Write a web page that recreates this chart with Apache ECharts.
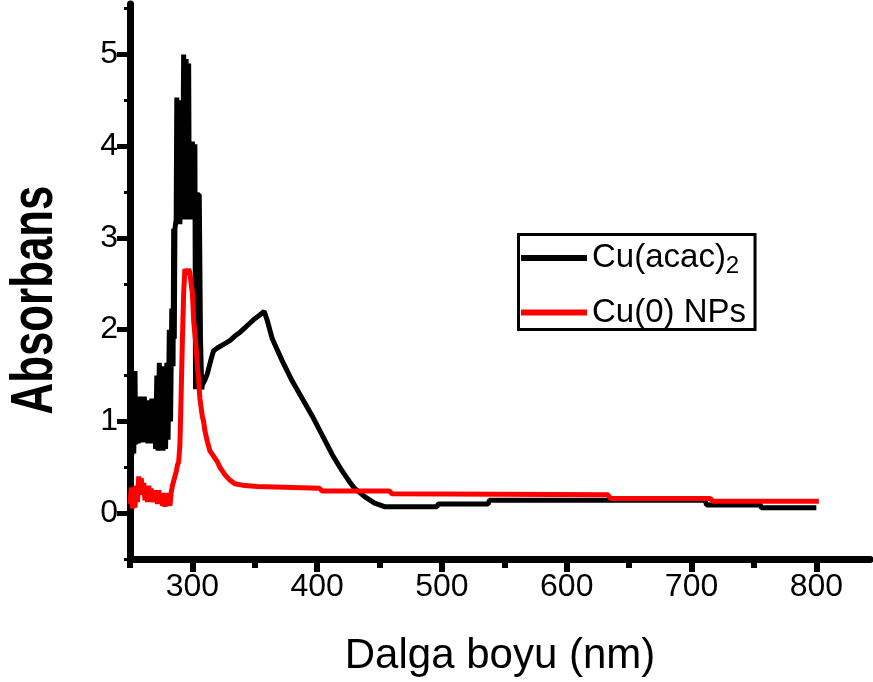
<!DOCTYPE html>
<html>
<head>
<meta charset="utf-8">
<script src="https://cdn.jsdelivr.net/npm/echarts@6/dist/echarts.min.js"></script>
<style>
    html, body { margin: 0; padding: 0; background: #fff; }
    #chart { width: 873px; height: 682px; }
</style>
</head>
<body>
<div id="chart"></div>
<script>
var seriesNames = ['Cu(acac)2', 'Cu(0) NPs'];
var xTicks = [300, 400, 500, 600, 700, 800];
var xMinorTicks = [250, 350, 450, 550, 650, 750];
var yTicks = [0, 1, 2, 3, 4, 5];
var yMinorTicks = [-0.5, 0.5, 1.5, 2.5, 3.5, 4.5, 5.5];

// Cu(acac)2 - black
var acacWave = [250, 251, 251.5, 252.5, 253, 254, 254.5, 255.5, 256.5, 257.5, 258.5, 259.5, 260.5, 261.5,
    262.5, 263.5, 264.5, 265.5, 266.5, 267.5, 268.5, 269.5, 270.5, 271.5, 272.5, 273.5, 274.5, 275.5,
    276.5, 277.5, 278.5, 279.5, 280.5, 281.5, 282.5, 283.5, 284.5, 285, 285.5, 286, 287, 287.5, 288,
    289, 290, 291, 292, 293, 294, 295, 296, 297, 297.5, 298, 299, 300, 301, 302, 302.5, 303.5, 305.5,
    306.5, 307.5, 308, 310, 312, 313.5, 315, 317, 320, 325, 330, 334, 338, 342, 346, 350, 354, 357.5,
    360, 364, 372, 380, 388, 396, 404, 412, 420, 426, 430, 438, 446, 454, 496, 497, 537, 538, 711, 712,
    755, 756, 800];
var acacAbs = [0.9, 1.6, 0.63, 1.5, 0.65, 1.55, 0.75, 1.27, 0.76, 1.27, 0.78, 1.25, 0.77, 1.27,
    0.78, 1.23, 0.76, 1.22, 0.78, 1.25, 0.76, 1.22, 0.7, 1.5, 0.68, 1.64, 0.7, 1.6,
    0.68, 1.55, 0.7, 1.64, 0.8, 2.0, 1.0, 2.23, 1.6, 3.1, 1.9, 3.1, 3.2, 4.53, 3.2,
    4.5, 3.15, 4.5, 3.2, 5.0, 3.2, 4.95, 3.2, 4.9, 3.3, 4.05, 3.2, 4.05, 3.3, 4.02, 1.35, 3.47, 3.47,
    1.9, 1.35, 1.4, 1.45, 1.52, 1.6, 1.68, 1.77, 1.8, 1.84, 1.88, 1.93, 1.97, 2.02, 2.07, 2.12, 2.16, 2.2,
    2.1, 1.9, 1.66, 1.44, 1.25, 1.06, 0.85, 0.64, 0.46, 0.34, 0.27, 0.18, 0.11, 0.07, 0.07, 0.1, 0.1, 0.14, 0.14, 0.09,
    0.09, 0.06, 0.06];

// Cu(0) NPs - red
var npWave = [250, 251, 252, 253, 254, 255, 256, 257, 258, 259, 260, 261, 262, 263, 264, 265, 266,
    267, 268, 269, 270, 271, 272, 273, 274, 275, 276, 277, 278, 279, 280, 281, 282, 283, 284, 285, 286,
    287, 288, 289, 290, 291, 292, 293, 294, 295, 296, 297, 298, 299, 300, 301, 302, 303, 304, 305, 306,
    307, 308, 309, 310, 312, 314, 316, 318, 320, 322, 324, 326, 328, 330, 334, 342, 352, 402, 404, 458,
    460, 633, 635, 715, 717, 802];
var npAbs = [0.1, 0.28, 0.05, 0.22, 0.06, 0.3, 0.12, 0.4, 0.2, 0.38, 0.22, 0.33, 0.14, 0.3, 0.12, 0.3, 0.14,
    0.27, 0.12, 0.25, 0.13, 0.24, 0.1, 0.25, 0.1, 0.22, 0.08, 0.2, 0.07, 0.22, 0.1, 0.18, 0.08, 0.22, 0.3, 0.35, 0.4,
    0.45, 0.52, 0.56, 0.75, 1.3, 1.9, 2.4, 2.66, 2.66, 2.6, 2.66, 2.62, 2.5, 2.4, 2.1, 1.95, 1.8, 1.6, 1.45, 1.25,
    1.15, 1.05, 1.0, 0.9, 0.78, 0.68, 0.64, 0.6, 0.56, 0.5, 0.46, 0.42, 0.39, 0.36, 0.32, 0.3, 0.29, 0.27, 0.24, 0.24,
    0.21, 0.2, 0.16, 0.16, 0.13, 0.13];

var FONT = '"Liberation Sans", Arial, sans-serif';

function pairs(xs, ys) {
    return xs.map(function (x, i) { return [x, ys[i]]; });
}

var chart = echarts.init(document.getElementById('chart'));

var option = {
    animation: false,
    backgroundColor: '#fff',
    grid: { left: 130, right: 3, top: 4, bottom: 121.5, containLabel: false },
    legend: {
        data: seriesNames,
        orient: 'vertical',
        left: 518.5,
        top: 234.5,
        icon: 'rect',
        itemWidth: 66,
        itemHeight: 6,
        itemGap: 18,
        padding: [3.5, 9, 0.5, 2.5],
        borderColor: '#000',
        borderWidth: 3,
        backgroundColor: '#fff',
        formatter: function (name) {
            if (name === seriesNames[0]) {
                return '{m|Cu(acac)}{s|2}';
            }
            return '{m|' + name + '}';
        },
        textStyle: {
            color: '#000',
            fontFamily: FONT,
            rich: {
                m: { fontSize: 33, lineHeight: 36, fontFamily: FONT, color: '#000' },
                s: { fontSize: 24, lineHeight: 20, padding: [16, 0, 0, 0], fontFamily: FONT, color: '#000' }
            }
        }
    },
    xAxis: [{
        type: 'value',
        min: 250,
        max: 843,
        position: 'bottom',
        name: 'Dalga boyu (nm)',
        nameLocation: 'middle',
        nameGap: 76,
        nameTextStyle: { fontSize: 42, fontFamily: FONT, color: '#000' },
        axisLine: { onZero: false, lineStyle: { color: '#000', width: 7 } },
        axisTick: { customValues: xTicks, length: 13, lineStyle: { color: '#000', width: 6 } },
        axisLabel: { customValues: xTicks, fontSize: 32, fontFamily: FONT, color: '#000', margin: 12 },
        splitLine: { show: false }
    }, {
        type: 'value',
        min: 250,
        max: 843,
        position: 'bottom',
        axisLine: { show: false, onZero: false },
        axisTick: { customValues: xMinorTicks, length: 9, lineStyle: { color: '#000', width: 6 } },
        axisLabel: { show: false },
        splitLine: { show: false }
    }],
    yAxis: [{
        type: 'value',
        min: -0.5,
        max: 5.55,
        position: 'left',
        axisLine: { onZero: false, lineStyle: { color: '#000', width: 7 } },
        axisTick: { customValues: yTicks, length: 13, lineStyle: { color: '#000', width: 5 } },
        axisLabel: { customValues: yTicks, fontSize: 32, fontFamily: FONT, color: '#000', margin: 12 },
        splitLine: { show: false }
    }, {
        type: 'value',
        min: -0.5,
        max: 5.55,
        position: 'left',
        axisLine: { show: false, onZero: false },
        axisTick: { customValues: yMinorTicks, length: 6, lineStyle: { color: '#000', width: 3 } },
        axisLabel: { show: false },
        splitLine: { show: false }
    }],
    graphic: [{
        type: 'text',
        x: 35,
        y: 300,
        rotation: Math.PI / 2,
        scaleX: 0.73,
        style: {
            text: 'Absorbans',
            font: 'bold 60px ' + FONT,
            fill: '#000',
            align: 'center',
            verticalAlign: 'middle'
        }
    }],
    series: [{
        name: seriesNames[0],
        type: 'line',
        xAxisIndex: 0,
        yAxisIndex: 0,
        showSymbol: false,
        symbol: 'none',
        color: '#000',
        lineStyle: { color: '#000', width: 5, join: 'bevel' },
        data: pairs(acacWave, acacAbs)
    }, {
        name: seriesNames[1],
        type: 'line',
        xAxisIndex: 0,
        yAxisIndex: 0,
        showSymbol: false,
        symbol: 'none',
        color: '#ff0000',
        lineStyle: { color: '#ff0000', width: 5, join: 'bevel' },
        data: pairs(npWave, npAbs)
    }]
};

chart.setOption(option);
</script>
</body>
</html>
